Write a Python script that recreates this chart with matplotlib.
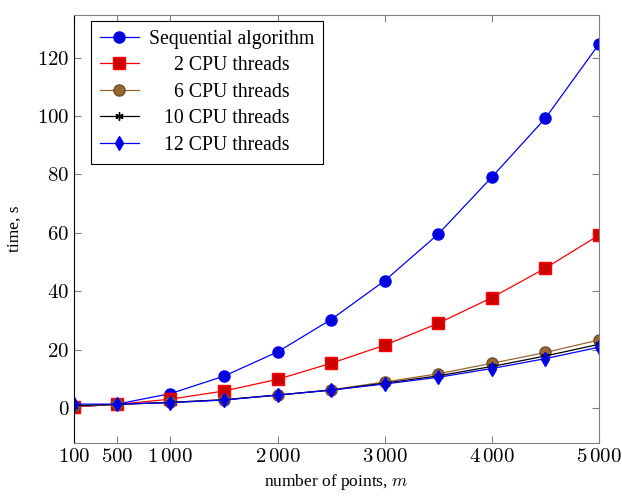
import matplotlib
matplotlib.use("Agg")
import matplotlib.pyplot as plt

plt.rcParams['font.family'] = ['Liberation Serif', 'DejaVu Serif']
plt.rcParams['mathtext.fontset'] = 'cm'

points = [100, 500, 1000, 1500, 2000, 2500, 3000, 3500, 4000, 4500, 5000]
sequential = [0.3, 1.3, 4.9, 10.9, 19.2, 30.3, 43.6, 59.6, 79.1, 99.3, 124.7]
cpu2 = [0.4, 1.2, 3.0, 5.8, 9.8, 15.3, 21.5, 29.0, 37.8, 47.9, 59.2]
cpu6 = [0.5, 1.2, 1.9, 2.8, 4.4, 6.2, 8.9, 11.7, 15.3, 19.0, 23.3]
cpu10 = [0.8, 1.2, 1.9, 2.8, 4.4, 6.1, 8.5, 11.0, 14.2, 17.8, 21.8]
cpu12 = [1.3, 1.3, 1.8, 2.7, 4.4, 6.1, 8.2, 10.5, 13.5, 16.9, 20.8]

xticks = [100, 500, 1000, 2000, 3000, 4000, 5000]
xticklabels = [r'$100$', r'$500$', r'$1\,000$', r'$2\,000$', r'$3\,000$', r'$4\,000$', r'$5\,000$']
yticks = [0, 20, 40, 60, 80, 100, 120]

fig = plt.figure(figsize=(6.22, 4.96), dpi=100)
ax = fig.add_axes([0.119, 0.107, 0.844, 0.863])

ax.plot(points, sequential, color='blue', lw=0.9, marker='o', ms=8,
        mfc=(0, 0, 0.85), mec='blue', label='Sequential algorithm')
ax.plot(points, cpu2, color='red', lw=0.9, marker='s', ms=8,
        mfc=(0.8, 0, 0), mec='red', label='     2 CPU threads')
ax.plot(points, cpu6, color=(0.6, 0.4, 0.2), lw=0.9, marker='o', ms=8,
        mfc=(0.6, 0.4, 0.2), mec=(0.45, 0.3, 0.15), label='     6 CPU threads')
ax.plot(points, cpu10, color='black', lw=0.9, marker=(6, 2, 0), ms=6,
        mec='black', label='   10 CPU threads')
ax.plot(points, cpu12, color='blue', lw=0.9, marker='d', ms=7,
        mfc=(0, 0, 0.85), mec='blue', label='   12 CPU threads')

ax.set_xlim(100, 5000)
ax.set_ylim(-12, 134.7)
ax.set_xticks(xticks)
ax.set_xticklabels(xticklabels)
ax.set_yticks(yticks)
ax.set_yticklabels([f'${v}$' for v in yticks])
ax.tick_params(direction='in', top=True, right=True, length=5, width=0.8,
               color='gray', labelsize=15)
for side in ['top', 'right', 'bottom']:
    ax.spines[side].set_color('gray')
ax.spines['left'].set_color('black')

ax.set_xlabel(r'number of points, $m$', fontsize=12.5)
ax.set_ylabel('time, s', fontsize=12.5, labelpad=10)

leg = ax.legend(loc='upper left', bbox_to_anchor=(0.032, 0.986), borderaxespad=0,
                fontsize=14.2, fancybox=False, edgecolor='black', framealpha=1,
                handlelength=2.0, handletextpad=0.5, borderpad=0.45, labelspacing=0.38)
leg.get_frame().set_linewidth(0.8)

fig.savefig('out.png', dpi=100)
